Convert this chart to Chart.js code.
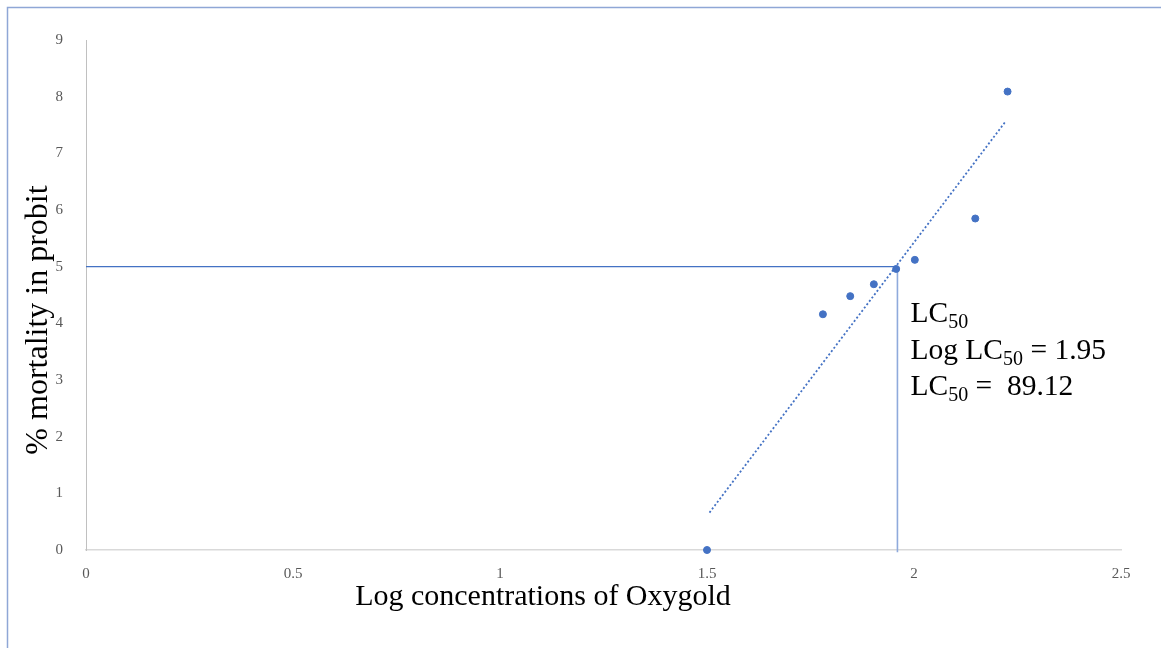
<!DOCTYPE html>
<html>
<head>
<meta charset="utf-8">
<script src="https://cdn.jsdelivr.net/npm/chart.js@4/dist/chart.umd.min.js"></script>
<style>
  html, body { margin: 0; padding: 0; background: #fff; }
  #wrap { width: 1161px; height: 648px; position: relative; }
</style>
</head>
<body>
<div id="wrap"><canvas id="probitChart" width="1161" height="648"></canvas></div>
<script>
// observed points: log concentration vs mortality in probit
const logConc = [1.5, 1.78, 1.846, 1.903, 1.957, 2.002, 2.148, 2.226];
const probit = [0, 4.16, 4.48, 4.69, 4.96, 5.12, 5.85, 8.09];

// linear trendline end points
const trendX = [1.506, 2.222];
const trendY = [0.66, 7.57];

// LC50 guide lines
const lc50LogX = 1.96;
const lc50Probit = 5;

const serif = '"Liberation Serif", "Times New Roman", serif';

const toPoints = (xs, ys) => xs.map((x, i) => ({ x: x, y: ys[i] }));

const decorPlugin = {
    id: 'decor',
    beforeDraw(chart) {
        const ctx = chart.ctx;
        ctx.save();
        ctx.strokeStyle = '#8fa7d6';
        ctx.lineWidth = 1.5;
        ctx.strokeRect(7.5, 7.5, 1300, 800);
        ctx.restore();
    },
    afterDraw(chart) {
        const ctx = chart.ctx;
        const xs = chart.scales.x;
        ctx.save();
        ctx.fillStyle = '#000';

        // axis titles
        ctx.font = '30px ' + serif;
        ctx.textAlign = 'center';
        ctx.textBaseline = 'alphabetic';
        ctx.fillText('Log concentrations of Oxygold', 543, 605);

        ctx.save();
        ctx.font = '32px ' + serif;
        ctx.translate(47, 320);
        ctx.rotate(-Math.PI / 2);
        ctx.fillText('% mortality in probit', 0, 0);
        ctx.restore();

        // LC50 annotation with subscripts
        const left = xs.getPixelForValue(lc50LogX) + 13;
        const lines = [
            [['LC', 0], ['50', 1]],
            [['Log LC', 0], ['50', 1], [' = 1.95', 0]],
            [['LC', 0], ['50', 1], [' =  89.12', 0]]
        ];
        const baselines = [322, 359, 395];
        ctx.textAlign = 'left';
        lines.forEach((parts, i) => {
            let x = left;
            parts.forEach(([txt, sub]) => {
                ctx.font = (sub ? '20px ' : '29.5px ') + serif;
                ctx.fillText(txt, x, baselines[i] + (sub ? 6 : 0));
                x += ctx.measureText(txt).width;
            });
        });
        ctx.restore();
    }
};

const ctx = document.getElementById('probitChart').getContext('2d');
new Chart(ctx, {
    type: 'scatter',
    data: {
        datasets: [
            {
                label: 'Probit',
                data: toPoints(logConc, probit),
                backgroundColor: '#4472c4',
                borderColor: '#4472c4',
                pointRadius: 3.5,
                clip: false,
                order: 1
            },
            {
                label: 'Trend',
                type: 'line',
                data: toPoints(trendX, trendY),
                borderColor: '#4472c4',
                borderWidth: 1.8,
                borderDash: [2, 2.2],
                pointRadius: 0,
                fill: false,
                order: 2
            },
            {
                label: 'LC50 horizontal',
                type: 'line',
                data: toPoints([0, lc50LogX], [lc50Probit, lc50Probit]),
                borderColor: '#4472c4',
                borderWidth: 1.2,
                pointRadius: 0,
                fill: false,
                order: 3
            },
            {
                label: 'LC50 vertical',
                type: 'line',
                data: toPoints([lc50LogX, lc50LogX], [lc50Probit, -0.04]),
                borderColor: '#8faadc',
                borderWidth: 1.6,
                pointRadius: 0,
                fill: false,
                clip: false,
                order: 3
            }
        ]
    },
    options: {
        responsive: false,
        animation: false,
        layout: { padding: { left: 0, top: 40, right: 40, bottom: 0 } },
        plugins: {
            legend: { display: false },
            tooltip: { enabled: false }
        },
        scales: {
            x: {
                type: 'linear',
                min: 0,
                max: 2.5,
                grid: { display: false },
                border: { display: true, color: '#d9d9d9', width: 1.5 },
                ticks: {
                    stepSize: 0.5,
                    padding: 7,
                    color: '#595959',
                    font: { family: serif, size: 15 },
                    callback: (v) => String(v)
                },
                afterFit(scale) { scale.height = 98; }
            },
            y: {
                type: 'linear',
                min: 0,
                max: 9,
                grid: { display: false },
                border: { display: true, color: '#c0c0c0', width: 1 },
                ticks: {
                    stepSize: 1,
                    padding: 15,
                    color: '#595959',
                    font: { family: serif, size: 15 },
                    callback: (v) => String(v)
                },
                afterFit(scale) { scale.width = 86; }
            }
        }
    },
    plugins: [decorPlugin]
});
</script>
</body>
</html>
